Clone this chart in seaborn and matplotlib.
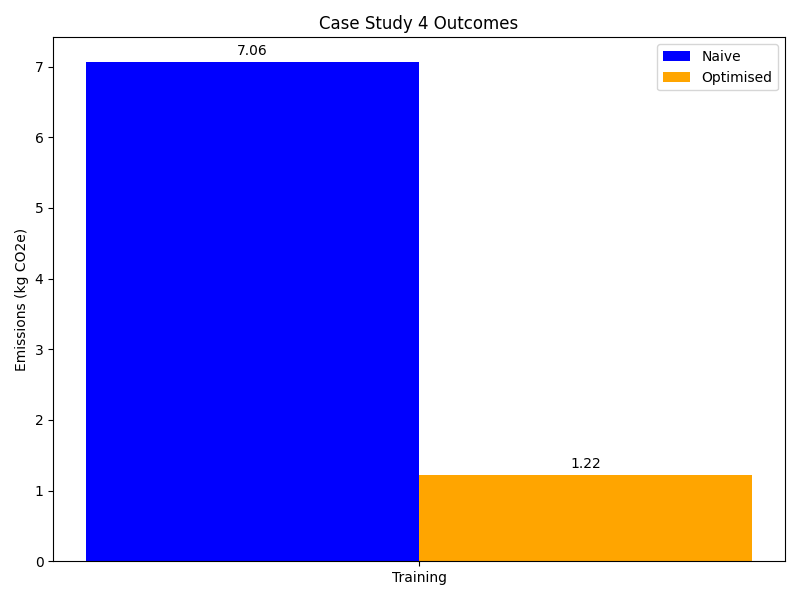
import matplotlib
matplotlib.use("Agg")
import matplotlib.pyplot as plt
import seaborn as sns
import pandas as pd

# Chart values
stages = ["Training", "Training"]
approaches = ["Naive", "Optimised"]
emissions = [7.06, 1.22]
palette = {"Naive": "blue", "Optimised": "orange"}

df = pd.DataFrame({"Stage": stages, "Approach": approaches, "Emissions": emissions})

fig, ax = plt.subplots(figsize=(8, 6), dpi=100)
sns.barplot(data=df, x="Stage", y="Emissions", hue="Approach", palette=palette,
            saturation=1, width=0.8, errorbar=None, ax=ax)

# numbers above each bar
for container in ax.containers:
    ax.bar_label(container, fmt="%.2f", padding=3)

ax.set_xlim(-0.44, 0.44)
ax.set_xlabel("")
ax.set_ylabel("Emissions (kg CO2e)")
ax.set_title("Case Study 4 Outcomes")
ax.legend(loc="upper right")

plt.tight_layout()
plt.savefig("out.png")
